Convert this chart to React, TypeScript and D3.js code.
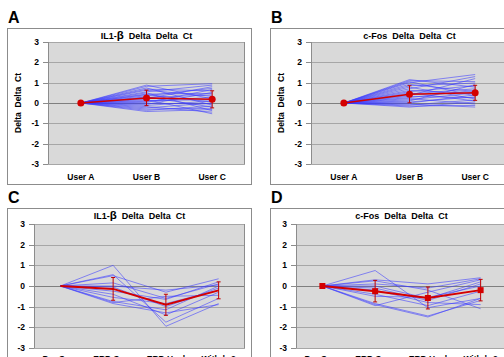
import React from "react";
import * as d3 from "d3";

// ---------- data ----------
const catsAB = ["User A", "User B", "User C"];
const catsCD = ["Pre-Surg", "ERP-Surg", "ERP-Heal", "Withdr-2"];

const A_userB = [0.88, 0.82, 0.74, 0.68, 0.63, 0.55, 0.5, 0.44, 0.41, 0.36, 0.3, 0.27, 0.22, 0.17, 0.12, 0.08, 0.03, -0.02, -0.07, -0.12, -0.18, -0.24, -0.3, -0.36, -0.42];
const A_userC = [0.2, 0.95, -0.1, 0.6, 0.33, 0.88, -0.38, 0.47, 0.05, 0.72, -0.2, 0.4, 0.8, -0.53, 0.16, 0.28, 0.66, -0.04, 0.52, 0.1, -0.45, 0.0, -0.26, -0.15, -0.32];
const A_mean = [0, 0.25, 0.18];
const A_err = [0, 0.38, 0.42];

const B_userB = [1.15, 1.1, 1.05, 1.0, 0.92, 0.85, 0.78, 0.7, 0.62, 0.56, 0.5, 0.44, 0.38, 0.33, 0.27, 0.22, 0.16, 0.1, 0.05, 0.0, -0.05, -0.1, -0.15, -0.2];
const B_userC = [0.78, 1.05, 0.35, 1.4, 0.56, 0.98, 0.2, 1.3, 0.46, 0.85, 0.1, 0.7, 1.2, 0.26, 0.62, -0.05, 0.5, 0.9, 0.3, 0.4, -0.2, 0.15, -0.12, 0.05];
const B_mean = [0, 0.43, 0.5];
const B_err = [0, 0.42, 0.37];

const C_series = [
  [0, 1.0, -1.95, -0.85],
  [0, 0.55, -1.75, -0.6],
  [0, 0.5, -0.3, 0.35],
  [0, 0.15, -0.6, 0.1],
  [0, 0.0, -0.2, 0.05],
  [0, -0.05, -1.0, -0.1],
  [0, -0.25, -0.65, 0.2],
  [0, -0.4, -1.4, -0.3],
  [0, -0.55, -0.85, -0.2],
  [0, -0.75, -1.15, 0.0],
  [0, -0.8, -0.5, -0.45],
  [0, -0.85, -1.3, -0.9],
];
const C_mean = [0, -0.14, -0.91, -0.21];
const C_err = [0, 0.55, 0.51, 0.41];

const D_series = [
  [0, 0.75, -1.05, -0.6],
  [0, 0.3, 0.1, 0.4],
  [0, 0.25, -0.2, -1.1],
  [0, 0.1, -0.1, 0.35],
  [0, 0.0, -0.6, 0.2],
  [0, -0.1, -0.7, 0.1],
  [0, -0.2, -0.8, -0.9],
  [0, -0.4, -0.95, -0.25],
  [0, -0.5, -0.55, 0.0],
  [0, -0.85, -1.45, -0.7],
  [0, -0.9, -1.5, -0.6],
  [0, -0.95, -0.3, 0.3],
];
const D_mean = [0, -0.25, -0.58, -0.2];
const D_err = [0, 0.52, 0.53, 0.52];

const yTicks = [3, 2, 1, 0, -1, -2, -3];

const titles = {
  A: ["IL1-", "β", "  Delta  Delta  Ct"],
  B: ["c-Fos  Delta  Delta  Ct", "", ""],
  C: ["IL1-", "β", "  Delta  Delta  Ct"],
  D: ["c-Fos  Delta  Delta  Ct", "", ""],
};

const FONT = "'Liberation Sans', Arial, sans-serif";

type PanelProps = {
  letter: string;
  box: [number, number, number, number];
  plot: [number, number, number, number];
  cats: string[];
  series: number[][];
  mean: number[];
  err: number[];
  title: string[];
  yTitle: boolean;
  marker: "circle" | "square" | "none";
  redWidth: number;
  labelY: number;
};

function Panel(p: PanelProps) {
  const [bx, by, bw, bh] = p.box;
  const [px0, py0, px1, py1] = p.plot;
  const x = d3.scalePoint<string>().domain(p.cats).range([px0, px1]).padding(0.5);
  const y = d3.scaleLinear().domain([-3, 3]).range([py1, py0]);
  const line = d3
    .line<number>()
    .x((_, i) => x(p.cats[i]) as number)
    .y((d) => y(d));
  const titleX = (px0 + px1) / 2;
  return (
    <g>
      <text x={bx + 1} y={by - 5} fontFamily={FONT} fontWeight="bold" fontSize={16} fill="#000">
        {p.letter}
      </text>
      <rect x={bx + 0.5} y={by + 0.5} width={bw} height={bh} fill="#fff" stroke="#8c8c8c" strokeWidth={1} />
      <rect x={px0} y={py0} width={px1 - px0} height={py1 - py0} fill="#d9d9d9" />
      {yTicks.map((t) => (
        <line
          key={t}
          x1={px0}
          x2={px1}
          y1={Math.round(y(t)) + 0.5}
          y2={Math.round(y(t)) + 0.5}
          stroke={t === 0 ? "#7f7f7f" : "#a6a6a6"}
          strokeWidth={1}
        />
      ))}
      <line x1={px0 + 0.5} x2={px0 + 0.5} y1={py0} y2={py1} stroke="#8c8c8c" />
      <line x1={px1 - 0.5} x2={px1 - 0.5} y1={py0} y2={py1} stroke="#8c8c8c" />
      {yTicks.map((t) => (
        <g key={"t" + t}>
          <line x1={px0 - 5} x2={px0} y1={Math.round(y(t)) + 0.5} y2={Math.round(y(t)) + 0.5} stroke="#8c8c8c" />
          <text
            x={px0 - 9}
            y={y(t)}
            dy="0.35em"
            textAnchor="end"
            fontFamily={FONT}
            fontWeight="bold"
            fontSize={8.5}
            fill="#000"
          >
            {t}
          </text>
        </g>
      ))}
      {p.cats.map((c) => (
        <text
          key={c}
          x={x(c)}
          y={p.labelY}
          textAnchor="middle"
          fontFamily={FONT}
          fontWeight="bold"
          fontSize={8.5}
          fill="#000"
        >
          {c}
        </text>
      ))}
      <text
        x={titleX}
        y={by + 11}
        textAnchor="middle"
        fontFamily={FONT}
        fontWeight="bold"
        fontSize={9}
        fill="#000"
        style={{ whiteSpace: "pre" }}
      >
        {p.title[0]}
        {p.title[1] && <tspan fontSize={11.5}>{p.title[1]}</tspan>}
        {p.title[2]}
      </text>
      {p.yTitle && (
        <text
          transform={`translate(${bx + 11},${(py0 + py1) / 2}) rotate(-90)`}
          textAnchor="middle"
          dy="0.35em"
          fontFamily={FONT}
          fontWeight="bold"
          fontSize={8.5}
          fill="#000"
          style={{ whiteSpace: "pre" }}
        >
          {"Delta  Delta  Ct"}
        </text>
      )}
      <g>
        {p.series.map((s, i) => (
          <path key={i} d={line(s) || ""} fill="none" stroke="#3a3aff" strokeOpacity={0.7} strokeWidth={0.8} />
        ))}
      </g>
      <path d={line(p.mean) || ""} fill="none" stroke="#d40000" strokeWidth={p.redWidth} />
      {p.mean.map((m, i) =>
        p.err[i] > 0 ? (
          <g key={"e" + i} stroke="#c00000" strokeWidth={1}>
            <line x1={x(p.cats[i])} x2={x(p.cats[i])} y1={y(m + p.err[i])} y2={y(m - p.err[i])} />
            <line x1={(x(p.cats[i]) as number) - 2} x2={(x(p.cats[i]) as number) + 2} y1={y(m + p.err[i])} y2={y(m + p.err[i])} />
            <line x1={(x(p.cats[i]) as number) - 2} x2={(x(p.cats[i]) as number) + 2} y1={y(m - p.err[i])} y2={y(m - p.err[i])} />
          </g>
        ) : null
      )}
      {p.mean.map((m, i) =>
        p.marker === "circle" ? (
          <circle key={"m" + i} cx={x(p.cats[i])} cy={y(m)} r={3.5} fill="#d40000" />
        ) : p.marker === "square" ? (
          <rect key={"m" + i} x={(x(p.cats[i]) as number) - 3} y={y(m) - 3} width={6} height={6} fill="#d40000" />
        ) : null
      )}
    </g>
  );
}

function toSeries(first: number[], second: number[]): number[][] {
  return first.map((b, i) => [0, b, second[i]]);
}

export default function App() {
  return (
    <svg width={504} height={357} style={{ position: "absolute", left: 0, top: 0, background: "#fff" }}>
      <Panel
        letter="A"
        box={[7, 28, 244, 156]}
        plot={[48, 42, 245, 164]}
        cats={catsAB}
        series={toSeries(A_userB, A_userC)}
        mean={A_mean}
        err={A_err}
        title={titles.A}
        yTitle={true}
        marker="circle"
        redWidth={1.5}
        labelY={180}
      />
      <Panel
        letter="B"
        box={[270, 28, 244, 156]}
        plot={[311, 42, 508, 164]}
        cats={catsAB}
        series={toSeries(B_userB, B_userC)}
        mean={B_mean}
        err={B_err}
        title={titles.B}
        yTitle={true}
        marker="circle"
        redWidth={1.5}
        labelY={180}
      />
      <Panel
        letter="C"
        box={[7, 208, 244, 160]}
        plot={[34, 224, 245, 348]}
        cats={catsCD}
        series={C_series}
        mean={C_mean}
        err={C_err}
        title={titles.C}
        yTitle={false}
        marker="none"
        redWidth={2}
        labelY={362}
      />
      <Panel
        letter="D"
        box={[270, 208, 244, 160]}
        plot={[296, 224, 507, 348]}
        cats={catsCD}
        series={D_series}
        mean={D_mean}
        err={D_err}
        title={titles.D}
        yTitle={false}
        marker="square"
        redWidth={2}
        labelY={362}
      />
    </svg>
  );
}
